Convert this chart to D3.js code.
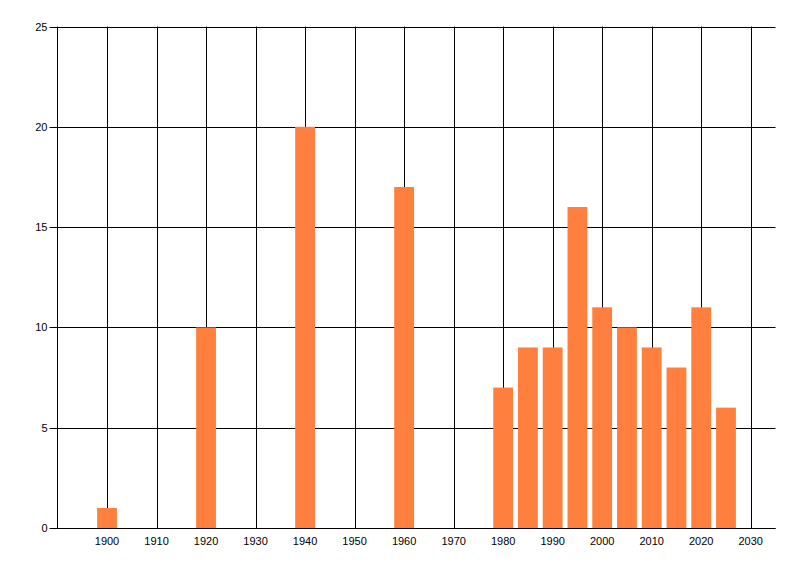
<!DOCTYPE html>
<html>
<head>
<meta charset="utf-8">
<script src="https://cdn.jsdelivr.net/npm/d3@7"></script>
<style>
  body { margin: 0; background: #fff; }
  svg text { font-family: "Liberation Sans", Arial, sans-serif; font-size: 11px; fill: #000; }
</style>
</head>
<body>
<div id="chart"></div>
<script>
// data
const years = [1900, 1920, 1940, 1960, 1980, 1985, 1990, 1995, 2000, 2005, 2010, 2015, 2020, 2025];
const counts = [1, 10, 20, 17, 7, 9, 9, 16, 11, 10, 9, 8, 11, 6];
const xTicks = [1900, 1910, 1920, 1930, 1940, 1950, 1960, 1970, 1980, 1990, 2000, 2010, 2020, 2030];
const yTicks = [0, 5, 10, 15, 20, 25];

const width = 800;
const height = 576;
const margin = { top: 26.5, right: 24.5, bottom: 48, left: 57.5 };

const svg = d3.select("#chart")
  .append("svg")
  .attr("width", width)
  .attr("height", height);

const xScale = d3.scaleLinear()
  .domain([1890, 2035])
  .range([margin.left, width - margin.right]);

const yScale = d3.scaleLinear()
  .domain([0, 25])
  .range([height - margin.bottom, margin.top]);

// gridlines
svg.append("g")
  .selectAll("line")
  .data(xTicks)
  .join("line")
  .attr("x1", d => Math.round(xScale(d)) + 0.5)
  .attr("x2", d => Math.round(xScale(d)) + 0.5)
  .attr("y1", yScale(25))
  .attr("y2", yScale(0))
  .attr("stroke", "#000")
  .attr("stroke-width", 1);

svg.append("g")
  .selectAll("line")
  .data(yTicks)
  .join("line")
  .attr("x1", margin.left)
  .attr("x2", width - margin.right)
  .attr("y1", d => Math.round(yScale(d)) + 0.5)
  .attr("y2", d => Math.round(yScale(d)) + 0.5)
  .attr("stroke", "#000")
  .attr("stroke-width", 1);

// bars, 4 years wide
const barYears = 4;
svg.append("g")
  .selectAll("rect")
  .data(years.map((y, i) => ({ year: y, count: counts[i] })))
  .join("rect")
  .attr("x", d => xScale(d.year - barYears / 2))
  .attr("width", d => xScale(d.year + barYears / 2) - xScale(d.year - barYears / 2))
  .attr("y", d => yScale(d.count))
  .attr("height", d => yScale(0) - yScale(d.count))
  .attr("fill", "#ff7f3f");

// left axis line
svg.append("line")
  .attr("x1", margin.left)
  .attr("x2", margin.left)
  .attr("y1", yScale(25))
  .attr("y2", yScale(0) + 0.5)
  .attr("stroke", "#000");

// bottom axis line
svg.append("line")
  .attr("x1", margin.left)
  .attr("x2", width - margin.right)
  .attr("y1", Math.round(yScale(0)) + 0.5)
  .attr("y2", Math.round(yScale(0)) + 0.5)
  .attr("stroke", "#000");

// y ticks and labels
const yAxisG = svg.append("g");
yAxisG.selectAll("line")
  .data(yTicks)
  .join("line")
  .attr("x1", margin.left - 8)
  .attr("x2", margin.left)
  .attr("y1", d => Math.round(yScale(d)) + 0.5)
  .attr("y2", d => Math.round(yScale(d)) + 0.5)
  .attr("stroke", "#000");

yAxisG.selectAll("text")
  .data(yTicks)
  .join("text")
  .attr("x", margin.left - 10)
  .attr("y", d => yScale(d) + 4)
  .attr("text-anchor", "end")
  .text(d => d);

// x labels
svg.append("g")
  .selectAll("text")
  .data(xTicks)
  .join("text")
  .attr("x", d => xScale(d))
  .attr("y", yScale(0) + 17)
  .attr("text-anchor", "middle")
  .text(d => d);
</script>
</body>
</html>
